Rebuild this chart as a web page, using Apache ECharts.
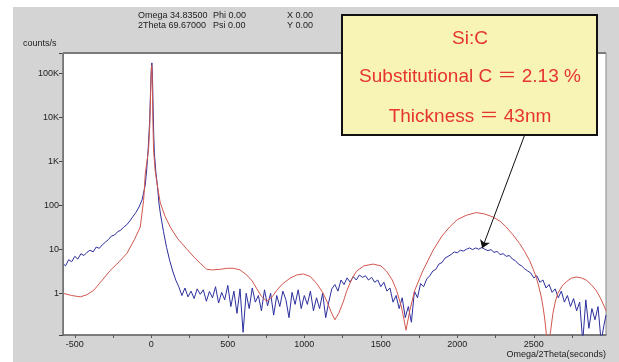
<!DOCTYPE html>
<html>
<head>
<meta charset="utf-8">
<script src="https://cdn.jsdelivr.net/npm/echarts@6/dist/echarts.min.js"></script>
<style>html,body{margin:0;padding:0;background:#fff}#c{width:619px;height:362px}</style>
</head>
<body>
<div id="c"></div>
<script>
// ---- data ----
const xTickValues = [-500,-250,0,250,500,750,1000,1250,1500,1750,2000,2250,2500,2750];
const xLabelValues = [-500,0,500,1000,1500,2000,2500];
const yLabelMap = {0:'1',1:'10',2:'100',3:'1K',4:'10K',5:'100K'};

// measured curve (blue): [Omega/2Theta seconds, counts/s]
const measured = [
[-577,4.7],[-560,4.2],[-540,5.8],[-520,5.2],[-500,6.9],[-480,6.0],[-460,7.9],[-440,7.2],[-420,8.5],[-400,9.5],
[-380,8.7],[-360,11.2],[-340,10.5],[-320,12.6],[-300,14.5],[-280,16.6],[-260,20],[-240,21],[-220,25],[-200,27],
[-180,32],[-160,36],[-140,44],[-120,55],[-100,69],[-80,91],[-60,132],[-40,280],[-30,630],[-20,2000],
[-10,8900],[-4,50000],[0,126000],[4,170000],[8,79000],[12,16000],[16,4000],[20,1580],[30,560],[40,280],
[50,112],[60,63],[80,25],[100,11],[120,5.6],[140,3.2],[160,2.0],[180,1.4],
[200,0.89],[220,1.32],[240,0.83],[260,1.12],[280,0.76],[300,1.26],[320,0.95],[340,1.2],[360,0.66],[380,1.1],
[400,0.79],[420,1.41],[440,0.6],[460,1.05],[480,0.71],[500,1.51],[520,0.5],[540,1.12],[560,0.35],[580,1.26],
[600,0.13],[620,1.0],[640,0.45],[660,1.32],[680,0.63],[700,0.89],[720,0.4],[740,1.2],[760,0.52],[780,1.0],
[800,0.32],[820,0.89],[840,0.5],[860,1.12],[880,0.71],[900,0.28],[920,1.05],[940,0.56],[960,1.2],[980,0.45],
[1000,0.89],[1020,0.56],[1040,1.12],[1060,0.4],[1080,0.79],[1100,0.45],[1120,1.0],[1140,0.28],[1160,0.63],[1180,1.26],
[1200,1.58],[1220,1.12],[1240,2.0],[1260,1.58],[1280,2.24],[1300,1.78],[1320,2.4],[1340,2.0],[1360,2.6],[1380,2.3],
[1400,2.5],[1420,2.0],[1440,2.3],[1460,1.78],[1480,2.0],[1500,1.41],[1520,1.78],[1540,1.12],[1560,1.32],[1580,0.63],
[1600,0.89],[1620,0.45],[1640,0.79],[1660,0.28],[1680,0.5],[1700,0.22],[1720,1.12],[1740,0.79],[1760,1.66],[1780,1.41],
[1800,2.1],[1820,2.5],[1840,3.2],[1860,3.5],[1880,4.6],[1900,5.0],[1920,6.3],[1940,6.9],[1960,7.6],[1980,8.7],
[2000,8.3],[2020,9.5],[2040,9.1],[2060,10],[2080,10.7],[2100,9.8],[2120,10.7],[2140,10],[2160,11],[2180,10],
[2200,9.3],[2220,9.8],[2240,8.5],[2260,8.9],[2280,7.6],[2300,7.9],[2320,6.9],[2340,7.2],[2360,6.0],[2380,5.5],
[2400,4.6],[2420,4.2],[2440,3.6],[2460,3.2],[2480,2.9],[2500,2.24],[2520,2.5],[2540,1.78],[2560,2.0],[2580,1.32],
[2600,1.58],[2620,1.05],[2640,1.26],[2660,0.79],[2680,1.12],[2700,0.63],[2720,0.89],[2740,0.5],[2760,0.76],[2780,0.4],
[2800,0.63],[2820,0.08],[2840,0.71],[2860,0.16],[2880,0.45],[2900,0.25],[2920,0.5],[2940,0.08],[2960,0.2],[2972,0.32]
];

// simulated curve (red): [Omega/2Theta seconds, counts/s]
const simulated = [
[-577,1.0],[-520,0.89],[-464,0.83],[-420,0.93],[-376,1.17],[-320,2.0],[-268,3.3],[-210,5.2],[-159,8.1],[-110,16.6],
[-72,32],[-50,129],[-39,537],[-30,890],[-18,1780],[-10,6300],[-4,40000],[0,100000],[3,150000],[6,79000],
[10,10000],[15,1780],[25,630],[37,316],[59,112],[90,56],[124,32],[170,17.8],[233,10],[280,6.6],
[320,4.8],[363,3.5],[400,3.4],[450,3.5],[500,3.7],[535,3.7],[580,3.4],[624,2.6],[660,1.9],[690,1.26],
[720,0.85],[755,0.66],[790,0.83],[820,1.17],[860,1.66],[907,2.2],[950,2.6],[994,2.75],[1040,2.4],[1081,1.66],
[1120,1.05],[1150,0.63],[1175,0.38],[1200,0.25],[1225,0.35],[1254,0.63],[1277,1.12],[1310,2.1],[1342,3.2],[1390,4.2],
[1450,4.6],[1500,4.2],[1537,3.2],[1575,2.0],[1603,1.17],[1635,0.49],[1652,0.25],[1665,0.145],[1678,0.25],[1690,0.41],
[1722,1.17],[1776,3.3],[1842,9.5],[1900,20],[1950,32],[2000,47],[2059,59],[2124,68],[2180,63],[2233,54],
[2280,43],[2320,32],[2365,21],[2407,13.5],[2440,8.9],[2472,5.6],[2495,3.6],[2516,2.3],[2533,1.41],[2549,0.83],
[2560,0.5],[2570,0.29],[2580,0.14],[2590,0.05],[2600,0.05],[2610,0.14],[2625,0.35],[2640,0.63],[2657,1.0],[2685,1.45],
[2712,1.82],[2745,2.2],[2777,2.34],[2810,2.24],[2842,2.0],[2875,1.58],[2907,1.17],[2935,0.79],[2962,0.49],[2972,0.4]
];

const arrowFrom = [2440, 3890];
const arrowTo = [2163, 10.5];

const headerLines = [
  ['Omega 34.83500', 'Phi 0.00', 'X 0.00'],
  ['2Theta 69.67000', 'Psi 0.00', 'Y 0.00']
];
const boxLines = ['Si:C', 'Substitutional C ＝ 2.13 %', 'Thickness ＝ 43nm'];

const chart = echarts.init(document.getElementById('c'), null, {renderer: 'canvas'});
const smallFont = {fontFamily: 'Liberation Sans, Arial, sans-serif', fontSize: 9, fill: '#222'};
const graphics = [
  {type: 'rect', z: -10, shape: {x: 13, y: 7, width: 606, height: 355}, style: {fill: '#d4d4d4'}, silent: true},
  {type: 'text', left: 23, top: 39, style: Object.assign({text: 'counts/s'}, smallFont)},
  {type: 'text', right: 13, top: 350, style: Object.assign({text: 'Omega/2Theta(seconds)'}, smallFont)},
  {type: 'line', z: 5, shape: {x1: 63, y1: 53, x2: 606, y2: 53}, style: {stroke: '#7a7a7a', lineWidth: 2}},
  {type: 'line', z: 5, shape: {x1: 63, y1: 53, x2: 63, y2: 335}, style: {stroke: '#7a7a7a', lineWidth: 1.5}}
];
const colX = [138, 213, 287];
headerLines.forEach((row, r) => row.forEach((t, i) => {
  graphics.push({type: 'text', x: colX[i], y: 11 + r * 10, style: Object.assign({text: t}, smallFont)});
}));
graphics.push({type: 'rect', z: 100, shape: {x: 342, y: 15, width: 255, height: 120},
  style: {fill: '#f8f4b6', stroke: '#111', lineWidth: 2}});
const boxY = [39, 77, 117];
boxLines.forEach((t, i) => {
  graphics.push({type: 'text', z: 101, x: 470, y: boxY[i],
    style: {text: t, fill: '#e5352c', fontSize: 19, fontFamily: 'Liberation Sans, Arial, Noto Sans CJK SC, sans-serif',
      textAlign: 'center', textVerticalAlign: 'middle'}});
});

chart.setOption({
  animation: false,
  backgroundColor: '#fff',
  grid: {left: 63, right: 13, top: 53, bottom: 27, show: true, backgroundColor: '#fff', borderColor: '#8a8a8a', borderWidth: 1},
  xAxis: {
    type: 'value', min: -577, max: 2972,
    axisLine: {onZero: false, lineStyle: {color: '#6a6a6a', width: 1.5}},
    axisTick: {length: 3, lineStyle: {color: '#555'}, customValues: xTickValues},
    axisLabel: {fontSize: 9, color: '#222', margin: 5, fontFamily: 'Liberation Sans, Arial, sans-serif',
      customValues: xLabelValues, formatter: function (v) { return String(v); }},
    splitLine: {show: false}
  },
  yAxis: {
    type: 'log', logBase: 10, min: 0.113, max: 285000,
    axisLine: {show: true, onZero: false, lineStyle: {color: '#6a6a6a'}},
    axisTick: {length: 4, lineStyle: {color: '#444'}},
    axisLabel: {fontSize: 9, color: '#222', margin: 4, fontFamily: 'Liberation Sans, Arial, sans-serif',
      formatter: function (v) {
        const e = Math.log10(v);
        const r = Math.round(e);
        if (Math.abs(e - r) > 1e-6) return '';
        return yLabelMap[r] !== undefined ? yLabelMap[r] : '';
      }},
    splitLine: {show: false}
  },
  graphic: graphics,
  series: [
    {type: 'line', name: 'measured', data: measured, showSymbol: false, lineStyle: {color: '#2c2f9c', width: 1}, z: 2,
      markLine: {silent: true, symbol: ['none', 'arrow'], symbolSize: 8, label: {show: false},
        lineStyle: {color: '#111', width: 1, type: 'solid'},
        data: [[{coord: arrowFrom}, {coord: arrowTo}]]}},
    {type: 'line', name: 'simulated', data: simulated, showSymbol: false, lineStyle: {color: '#d2574e', width: 1}, z: 3}
  ]
});
</script>
</body>
</html>
